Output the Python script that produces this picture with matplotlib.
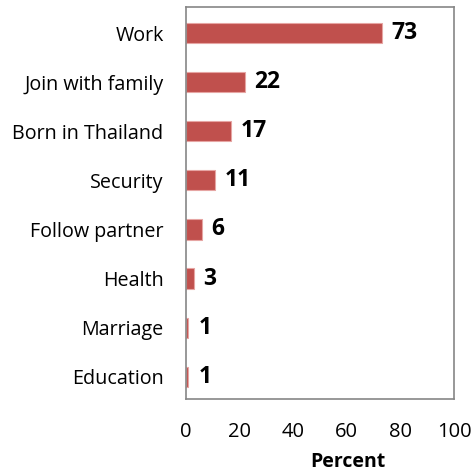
import matplotlib.pyplot as plt

categories = ["Work", "Join with family", "Born in Thailand", "Security",
              "Follow partner", "Health", "Marriage", "Education"]
values = [73, 22, 17, 11, 6, 3, 1, 1]
xticks = [0, 20, 40, 60, 80, 100]

plt.rcParams['font.family'] = ['Open Sans', 'DejaVu Sans']

fig = plt.figure(figsize=(4.74, 4.72), dpi=100)
ax = fig.add_axes([0.392, 0.155, 0.566, 0.830])

n = len(categories)
ypos = [n - 1 - i for i in range(n)]
ax.barh(ypos, values, height=0.41, color="#C0504D", edgecolor="#E6A5A3", linewidth=0.8)

for y, v in zip(ypos, values):
    ax.annotate(str(v), xy=(v, y), xytext=(7, 0), textcoords="offset points",
                va="center", ha="left", fontsize=16.5, fontweight="bold", color="black")

ax.set_xlim(0, 100)
ax.set_ylim(-0.45, 7.53)
ax.set_xticks(xticks)
ax.set_xticklabels([str(t) for t in xticks], fontsize=14.5)
ax.set_yticks(ypos)
ax.set_yticklabels(categories, fontsize=14.2)
ax.tick_params(axis="x", length=0, pad=17)
ax.tick_params(axis="y", length=0, pad=16)
ax.set_xlabel("Percent", fontsize=14, fontweight="bold", labelpad=5)
ax.xaxis.set_label_coords(0.604, -0.135)

for s in ax.spines.values():
    s.set_color("#868686")
    s.set_linewidth(1.2)

fig.savefig("out.png", dpi=100)
